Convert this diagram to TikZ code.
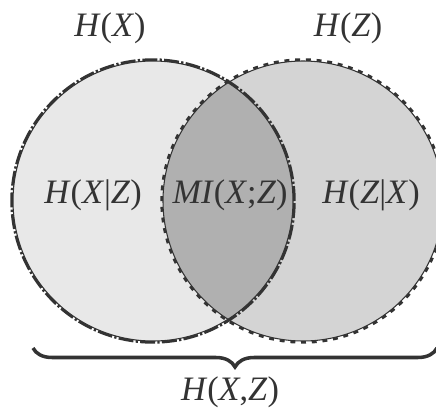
\documentclass[tikz,border=0pt]{standalone}
\usepackage{fontspec}
\setmainfont{Liberation Serif}
\usetikzlibrary{decorations.pathreplacing}

\begin{document}
\begin{tikzpicture}[
    x=0.02cm, y=0.02cm,
    lbl/.style={
        font=\fontsize{19.5}{22}\selectfont,
        text=black!80,
        inner sep=0pt
    },
    entset/.style={
        circle,
        minimum size=5.6cm,
        inner sep=0pt
    },
    rim/.style={draw=black!80, line width=0.6pt},
    dashlong/.style={draw=black!80, line width=1.5pt,
        dash pattern=on 8.5pt off 1.3pt on 1.3pt off 1.3pt},
    dashshort/.style={draw=black!80, line width=1.5pt,
        dash pattern=on 2.8pt off 3.3pt},
    brace/.style={decorate, decoration={brace, mirror, amplitude=0.38cm},
        line width=2pt, draw=black!80}
]
\useasboundingbox (0,0) rectangle (436,410);

% the two entropy circles
\node[entset, fill=black!9] (setx) at (153,209) {};
\node[entset, fill=black!17] (setz) at (303,209) {};

% overlap
\begin{scope}
    \clip (setx.center) circle[radius=140];
    \fill[black!31] (setz.center) circle[radius=140];
\end{scope}

% outlines: thin rim plus dashes just outside
\draw[rim] (setz.center) circle[radius=140];
\draw[dashshort] (setz.center) circle[radius=141.4];
\draw[rim] (setx.center) circle[radius=140];
\draw[dashlong] (setx.center) circle[radius=141.4];

% labels
\node[lbl] (hx) at (110,382) {\textit{H}(\textit{X})};
\node[lbl] (hz) at (348,382) {\textit{H}(\textit{Z})};
\node[lbl] (hxz) at (93,215) {\textit{H}(\textit{X}|\textit{Z})};
\node[lbl] (mi) at (230,215) {\textit{MI}(\textit{X};\textit{Z})};
\node[lbl] (hzx) at (371,215) {\textit{H}(\textit{Z}|\textit{X})};

% joint entropy
\coordinate (bl) at (33,62);
\coordinate (br) at (437,62);
\draw[brace] (bl) -- (br);
\node[lbl] (joint) at (230,18) {\textit{H}(\textit{X},\textit{Z})};

\end{tikzpicture}
\end{document}
